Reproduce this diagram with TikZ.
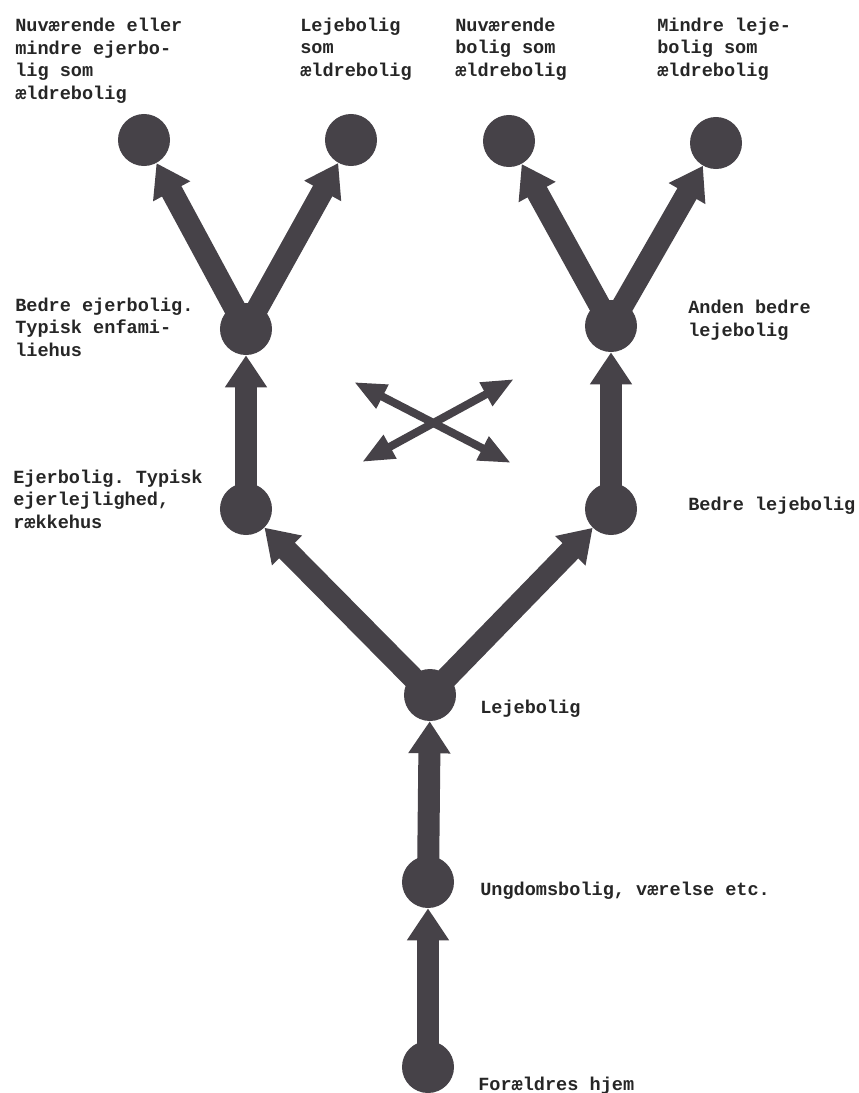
\documentclass[tikz,border=0pt]{standalone}
\usepackage{fontspec}
\setmonofont{Liberation Mono}
\usepackage{xcolor}
\usetikzlibrary{arrows.meta,positioning}
\definecolor{ink}{RGB}{70,66,72}

\begin{document}
\begin{tikzpicture}[x=0.025cm, y=-0.025cm,
    home/.style={circle, fill=ink, minimum size=1.3cm, inner sep=0pt},
    lbl/.style={anchor=base west, align=left, inner sep=0pt, text=black!85,
        font=\ttfamily\bfseries\fontsize{13.2}{16}\selectfont},
    move/.style={-{Triangle[width=1cm, length=0.8cm]}, line width=0.55cm, ink},
    swap/.style={{Triangle[width=0.62cm, length=0.8cm]}-{Triangle[width=0.62cm, length=0.8cm]}, line width=0.2cm, ink},
]
\useasboundingbox (0,0) rectangle (859,1093);

% Trunk: from parents' home upwards
\node[home] (hjem) at (428,1067) {};
\node[home] (ungdom) at (428,882) {};
\node[home] (leje) at (430,695) {};

% Left branch: owner-occupied
\node[home] (ejer) at (246,509) {};
\node[home] (bedreejer) at (246,329) {};
\node[home] (topA) at (144,140) {};
\node[home] (topB) at (351,140) {};

% Right branch: rented
\node[home] (bedreleje) at (611,509) {};
\node[home] (andenleje) at (611,326) {};
\node[home] (topC) at (509,141) {};
\node[home] (topD) at (716,143) {};

% Connectors
\draw[move] (hjem.center) -- (ungdom);
\draw[move] (ungdom.center) -- (leje);
\draw[move] (leje.center) -- (ejer);
\draw[move] (leje.center) -- (bedreleje);
\draw[move] (ejer.center) -- (bedreejer);
\draw[move] (bedreleje.center) -- (andenleje);
\draw[move] (bedreejer.center) -- (topA);
\draw[move] (bedreejer.center) -- (topB);
\draw[move] (andenleje.center) -- (topC);
\draw[move] (andenleje.center) -- (topD);

% Cross: switching between the branches
\coordinate (xul) at (354,382);
\coordinate (xlr) at (511,463);
\coordinate (xur) at (514,379);
\coordinate (xll) at (362,462);
\draw[swap] (xul) -- (xlr);
\draw[swap] (xll) -- (xur);

% Labels (placed at the baseline of their last line)
\node[lbl] (lA) at (15,99) {Nuværende eller\\mindre ejerbo-\\lig som\\ældrebolig};
\node[lbl] (lB) at (300,76) {Lejebolig\\som\\ældrebolig};
\node[lbl] (lC) at (455,76) {Nuværende\\bolig som\\ældrebolig};
\node[lbl] (lD) at (657,76) {Mindre leje-\\bolig som\\ældrebolig};
\node[lbl] (lbedreejer) at (15,356) {Bedre ejerbolig.\\Typisk enfami-\\liehus};
\node[lbl] (lejer) at (13,528) {Ejerbolig. Typisk\\ejerlejlighed,\\rækkehus};
\node[lbl] (landenleje) at (688,336) {Anden bedre\\lejebolig};
\node[lbl] (lbedreleje) at (688,510) {Bedre lejebolig};
\node[lbl] (lleje) at (480,713) {Lejebolig};
\node[lbl] (lungdom) at (480,895) {Ungdomsbolig, værelse etc.};
\node[lbl] (lhjem) at (478,1090) {Forældres hjem};

\end{tikzpicture}
\end{document}
